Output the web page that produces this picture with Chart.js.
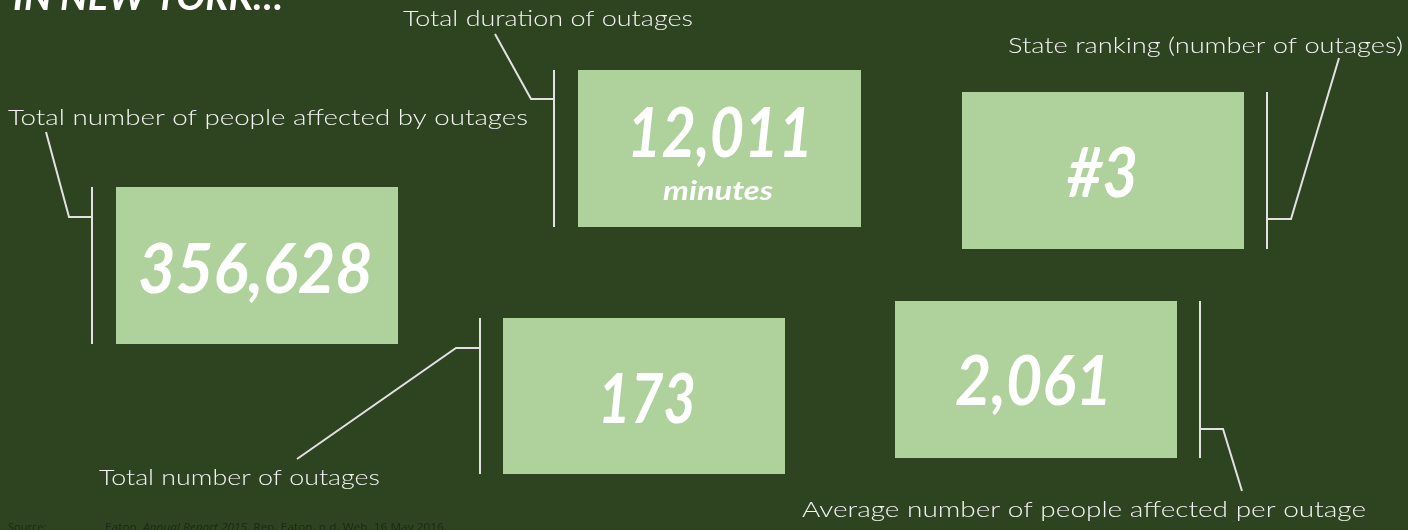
<!DOCTYPE html>
<html>
<head>
<meta charset="utf-8">
<script src="https://cdn.jsdelivr.net/npm/chart.js@4/dist/chart.umd.min.js"></script>
<style>
  html, body { margin: 0; padding: 0; background: #2e4320; overflow: hidden; }
  canvas { display: block; }
</style>
</head>
<body>
<canvas id="nyChart" width="1408" height="530"></canvas>
<script>
// ===== NEW YORK OUTAGE FACTS =====
var title = 'IN NEW YORK…';
var labels = ['Total number of people affected by outages', 'Total duration of outages', 'State ranking (number of outages)', 'Total number of outages', 'Average number of people affected per outage'];
var values = [356628, 12011, 3, 173, 2061];
var prefixes = ['', '', '#', '', ''];
var units = ['', 'minutes', '', '', ''];
var sourceNote = ['Eaton. ', 'Annual Report 2015', '. Rep. Eaton, n.d. Web. 16 May 2016.'];

// layout, in scale units (x 0..1408, y 0..530 top-down)
var boxRects  = [[116,187,398,344], [578,70,861,227], [962,92,1244,249], [503,318,785,474], [895,301,1177,458]];
var bracketX  = [92, 554, 1267, 480, 1200];
var leaders   = [[[92,217],[69,217],[46,132]], [[554,99],[531,99],[495,34]], [[1267,219],[1291,219],[1339,58]], [[480,348],[456,348],[297,459]], [[1200,429],[1223,429],[1242,491]]];
var labelPos  = [[8,528,125], [403,693,26], [1008,1403,53], [99,380,485], [802,1366,517]];
var valuePos  = [[138,373,293], [627,813,157], [1067,1138,197], [598,696,423], [955,1112,405]];
var unitPos   = [null, [663,773,200], null, null, null];

var BG = '#2e4320', BOX = '#afd19b', LINE = '#e2e2e2', TXT = '#f4f4f4';

function fillFit(ctx, text, left, right, baseline) {
  var w = ctx.measureText(text).width;
  ctx.save();
  ctx.translate(left, baseline);
  ctx.scale((right - left) / w, 1);
  ctx.textAlign = 'left';
  ctx.textBaseline = 'alphabetic';
  ctx.fillText(text, 0, 0);
  ctx.restore();
}

var datasets = [];
boxRects.forEach(function(r, i) {
  datasets.push({ data: [{ x: bracketX[i], y: r[1] }, { x: bracketX[i], y: r[3] }], showLine: true, borderColor: LINE, borderWidth: 2, pointRadius: 0 });
  datasets.push({ data: leaders[i].map(function(p) { return { x: p[0], y: p[1] }; }), showLine: true, borderColor: LINE, borderWidth: 2, pointRadius: 0, tension: 0 });
});

var cardsPlugin = {
  id: 'cards',
  beforeDraw: function(chart) {
    var ctx = chart.ctx;
    ctx.save();
    ctx.fillStyle = BG;
    ctx.fillRect(0, 0, chart.width, chart.height);
    ctx.restore();
  },
  beforeDatasetsDraw: function(chart) {
    var ctx = chart.ctx, sx = chart.scales.x, sy = chart.scales.y;
    ctx.save();
    ctx.fillStyle = BOX;
    boxRects.forEach(function(r) {
      var x0 = sx.getPixelForValue(r[0]), x1 = sx.getPixelForValue(r[2]);
      var y0 = sy.getPixelForValue(r[1]), y1 = sy.getPixelForValue(r[3]);
      ctx.fillRect(x0, y0, x1 - x0, y1 - y0);
    });
    ctx.restore();
  },
  afterDatasetsDraw: function(chart) {
    var ctx = chart.ctx, sx = chart.scales.x, sy = chart.scales.y;
    function px(v) { return sx.getPixelForValue(v); }
    function py(v) { return sy.getPixelForValue(v); }
    ctx.save();
    ctx.fillStyle = '#ffffff';

    // title (mostly off the top edge)
    ctx.font = 'italic 700 38px Lato, "Open Sans", sans-serif';
    fillFit(ctx, title, px(13), px(283), py(10));

    // big numbers + units
    values.forEach(function(v, i) {
      var p = valuePos[i];
      ctx.font = 'italic 700 68px Lato, "Open Sans", sans-serif';
      fillFit(ctx, prefixes[i] + v.toLocaleString('en-US'), px(p[0]), px(p[1]), py(p[2]));
      if (unitPos[i]) {
        var u = unitPos[i];
        ctx.font = 'italic 700 27px Lato, "Open Sans", sans-serif';
        fillFit(ctx, units[i], px(u[0]), px(u[1]), py(u[2]));
      }
    });

    // labels
    ctx.fillStyle = TXT;
    ctx.font = '300 22px Lato, "Open Sans", sans-serif';
    labels.forEach(function(t, i) {
      var p = labelPos[i];
      fillFit(ctx, t, px(p[0]), px(p[1]), py(p[2]));
    });

    // source line, stretched to its width in the reference
    ctx.fillStyle = '#1c2914';
    ctx.textBaseline = 'alphabetic';
    ctx.textAlign = 'left';
    var fonts = ['11px "Open Sans", sans-serif', 'italic 11px "Open Sans", sans-serif', '11px "Open Sans", sans-serif'];
    ctx.font = fonts[0];
    ctx.fillText('Source:', px(8), py(531));
    var total = 0;
    sourceNote.forEach(function(s, i) { ctx.font = fonts[i]; total += ctx.measureText(s).width; });
    ctx.save();
    ctx.translate(px(105), py(531));
    ctx.scale((px(447) - px(105)) / total, 1);
    var x = 0;
    sourceNote.forEach(function(s, i) { ctx.font = fonts[i]; ctx.fillText(s, x, 0); x += ctx.measureText(s).width; });
    ctx.restore();
    ctx.restore();
  }
};

new Chart(document.getElementById('nyChart').getContext('2d'), {
  type: 'scatter',
  data: { datasets: datasets },
  options: {
    responsive: false, animation: false, events: [],
    layout: { padding: 0 },
    plugins: { legend: { display: false }, tooltip: { enabled: false } },
    scales: {
      x: { type: 'linear', min: 0, max: 1408, display: false },
      y: { type: 'linear', min: 0, max: 530, reverse: true, display: false }
    }
  },
  plugins: [cardsPlugin]
});
</script>
</body>
</html>
